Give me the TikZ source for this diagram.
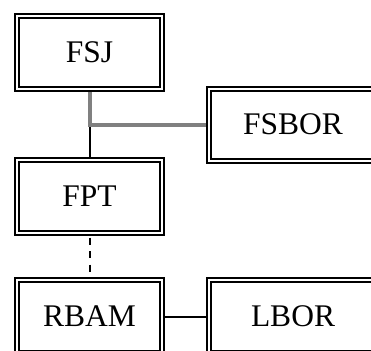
\documentclass[tikz,border=0pt]{standalone}
\usepackage{fontspec}
\setmainfont{Liberation Serif}
\usetikzlibrary{backgrounds}
\begin{document}
\begin{tikzpicture}[x=1pt,y=-1pt,
  box/.style={draw=black, line width=2pt, double=white, double distance=2pt,
    fill=white, inner sep=0pt, font=\fontsize{31.5}{38}\selectfont},
  leftbox/.style={box, minimum width=145pt, minimum height=73pt},
  rightbox/.style={box, minimum width=168pt, minimum height=72pt},
  grayconn/.style={draw=black!50, line width=4pt},
  blackconn/.style={draw=black, line width=2pt},
  dashconn/.style={draw=black, line width=2pt, dash pattern=on 7pt off 6.5pt, dash phase=10pt}]
\useasboundingbox (0,0) rectangle (371,350);
\clip (0,0) rectangle (371,350);
\node[leftbox] (fsj) at (89.5,52.5) {FSJ};
\node[rightbox] (fsbor) at (293,124.5) {FSBOR};
\node[leftbox] (fpt) at (89.5,196.5) {FPT};
\node[leftbox] (rbam) at (89.5,316.5) {RBAM};
\node[rightbox, minimum height=73pt] (lbor) at (293,316.5) {LBOR};
\begin{scope}[on background layer]
  \coordinate (junc) at (fsj.south |- fsbor.west);
  \draw[blackconn] (junc) -- (fpt.north);
  \draw[grayconn] (fsj.south) |- (fsbor.west);
  \draw[dashconn] (fpt.south) -- (rbam.north);
  \draw[blackconn] (rbam.east) -- (lbor.west);
\end{scope}
\end{tikzpicture}
\end{document}
